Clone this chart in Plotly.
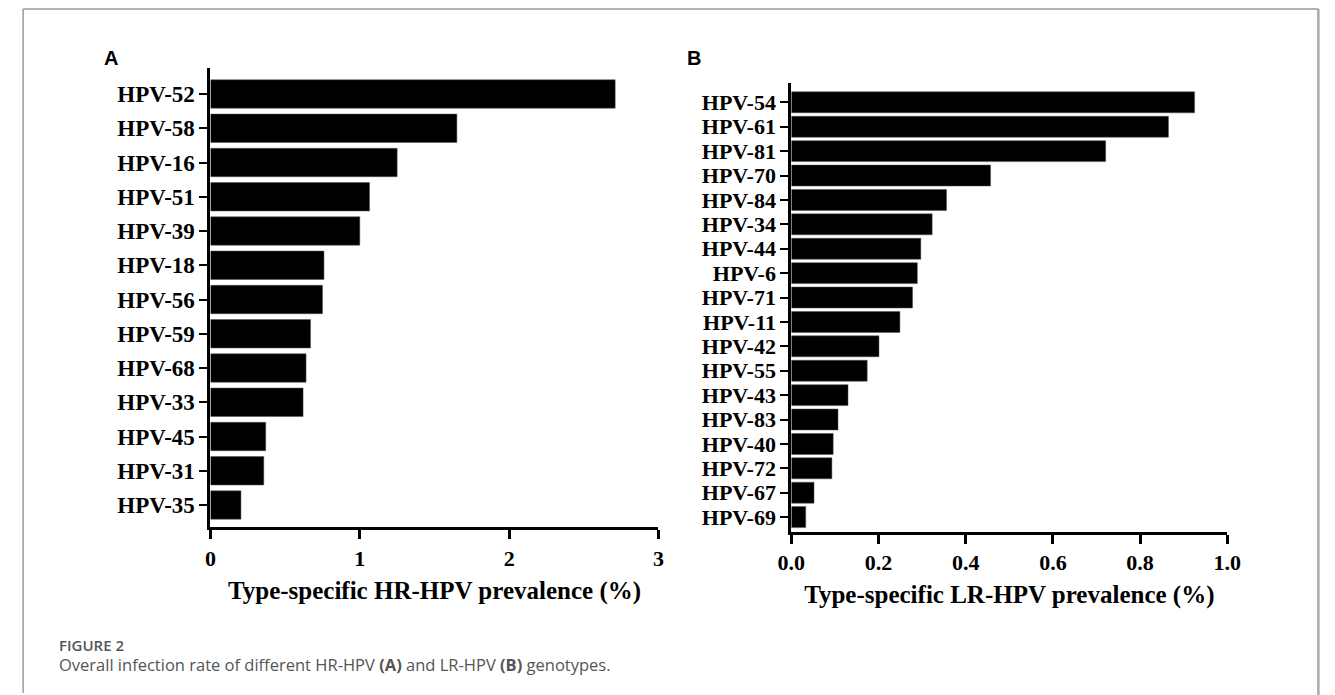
import plotly.graph_objects as go

# ---- data ----
hr_types = ["HPV-52", "HPV-58", "HPV-16", "HPV-51", "HPV-39", "HPV-18", "HPV-56",
            "HPV-59", "HPV-68", "HPV-33", "HPV-45", "HPV-31", "HPV-35"]
hr_values = [2.71, 1.65, 1.25, 1.065, 1.00, 0.76, 0.75, 0.67, 0.64, 0.62, 0.37, 0.357, 0.204]

lr_types = ["HPV-54", "HPV-61", "HPV-81", "HPV-70", "HPV-84", "HPV-34", "HPV-44", "HPV-6",
            "HPV-71", "HPV-11", "HPV-42", "HPV-55", "HPV-43", "HPV-83", "HPV-40", "HPV-72",
            "HPV-67", "HPV-69"]
lr_values = [0.925, 0.865, 0.721, 0.457, 0.356, 0.323, 0.297, 0.289, 0.278, 0.249,
             0.201, 0.174, 0.130, 0.107, 0.096, 0.093, 0.052, 0.033]

hr_ticks = [0, 1, 2, 3]
hr_ticktext = ["0", "1", "2", "3"]
lr_ticks = [0.0, 0.2, 0.4, 0.6, 0.8, 1.0]
lr_ticktext = ["0.0", "0.2", "0.4", "0.6", "0.8", "1.0"]

W, H = 1335, 695
serif = "Liberation Serif, Times New Roman, serif"

fig = go.Figure()
fig.add_trace(go.Bar(x=hr_values, y=hr_types, orientation="h", xaxis="x", yaxis="y",
                     width=0.83, marker=dict(color="black", line=dict(color="#555", width=0.5)),
                     showlegend=False))
fig.add_trace(go.Bar(x=lr_values, y=lr_types, orientation="h", xaxis="x2", yaxis="y2",
                     width=0.86, marker=dict(color="black", line=dict(color="#555", width=0.5)),
                     showlegend=False))

def px_x(p):
    return p / W

def px_y(p):
    return 1 - p / H

axis_common = dict(showline=True, linecolor="black", linewidth=3, ticks="outside",
                   tickcolor="black", showgrid=False, zeroline=False, fixedrange=True)

fig.update_layout(
    width=W, height=H,
    margin=dict(l=0, r=0, t=0, b=0),
    paper_bgcolor="white", plot_bgcolor="white",
    xaxis=dict(domain=[px_x(200.7), px_x(658.3)], anchor="y", range=[0, 3],
               tickmode="array", tickvals=hr_ticks, ticktext=hr_ticktext, ticklen=9, tickwidth=3,
               tickfont=dict(family=serif, size=22, color="black", weight="bold"),
               title=dict(text="Type-specific HR-HPV prevalence (%)", standoff=12,
                          font=dict(family=serif, size=25, color="black", weight="bold")),
               **axis_common),
    yaxis=dict(domain=[px_y(527.3), px_y(68.3)], anchor="x", type="category",
               categoryorder="array", categoryarray=hr_types, range=[12.65, -0.75],
               tickmode="array", tickvals=hr_types, ticktext=hr_types,
               ticklen=8, tickwidth=2,
               tickfont=dict(family=serif, size=23, color="black", weight="bold"),
               **axis_common),
    xaxis2=dict(domain=[px_x(794.0), px_x(1239.3)], anchor="y2", range=[0, 1.0],
                tickmode="array", tickvals=lr_ticks, ticktext=lr_ticktext, ticklen=9, tickwidth=3,
                tickfont=dict(family=serif, size=22, color="black", weight="bold"),
                title=dict(text="Type-specific LR-HPV prevalence (%)", standoff=12,
                           font=dict(family=serif, size=25, color="black", weight="bold")),
                **axis_common),
    yaxis2=dict(domain=[px_y(532.0), px_y(83.3)], anchor="x2", type="category",
                categoryorder="array", categoryarray=lr_types, range=[17.61, -0.78],
                tickmode="array", tickvals=lr_types, ticktext=lr_types,
                ticklen=8, tickwidth=2,
                tickfont=dict(family=serif, size=22, color="black", weight="bold"),
                **axis_common),
)

# panel letters
for letter, xp in (("A", 99), ("B", 695)):
    fig.add_annotation(text=letter, x=px_x(xp), y=px_y(57.5), xref="paper", yref="paper",
                       xanchor="center", yanchor="middle", showarrow=False,
                       font=dict(family="Liberation Sans, Arial, sans-serif", size=20,
                                 color="black", weight="bold"))

# caption
fig.add_annotation(text="FIGURE 2", x=px_x(44), y=px_y(645), xref="paper", yref="paper",
                   xanchor="left", yanchor="middle", showarrow=False,
                   font=dict(family="Open Sans, sans-serif", size=15, color="#555555",
                             weight=600))
fig.add_annotation(text="Overall infection rate of different HR-HPV <b>(A)</b> and LR-HPV <b>(B)</b> genotypes.",
                   x=px_x(44), y=px_y(664), xref="paper", yref="paper",
                   xanchor="left", yanchor="middle", showarrow=False,
                   font=dict(family="Open Sans, sans-serif", size=16.5, color="#555555"))

# outer frame (top, left, right)
fig.add_shape(type="line", xref="paper", yref="paper", x0=px_x(9.3), x1=px_x(1332.3),
              y0=px_y(9), y1=px_y(9), line=dict(color="#999999", width=1.5))
fig.add_shape(type="line", xref="paper", yref="paper", x0=px_x(9.3), x1=px_x(9.3),
              y0=px_y(9), y1=px_y(693), line=dict(color="#999999", width=1.5))
fig.add_shape(type="line", xref="paper", yref="paper", x0=px_x(1332.3), x1=px_x(1332.3),
              y0=px_y(9), y1=px_y(695), line=dict(color="#aaaaaa", width=2.5))

fig.write_html("out.html", config={"displayModeBar": False},
               post_script="document.body.style.margin='0';document.body.style.overflow='hidden';")
